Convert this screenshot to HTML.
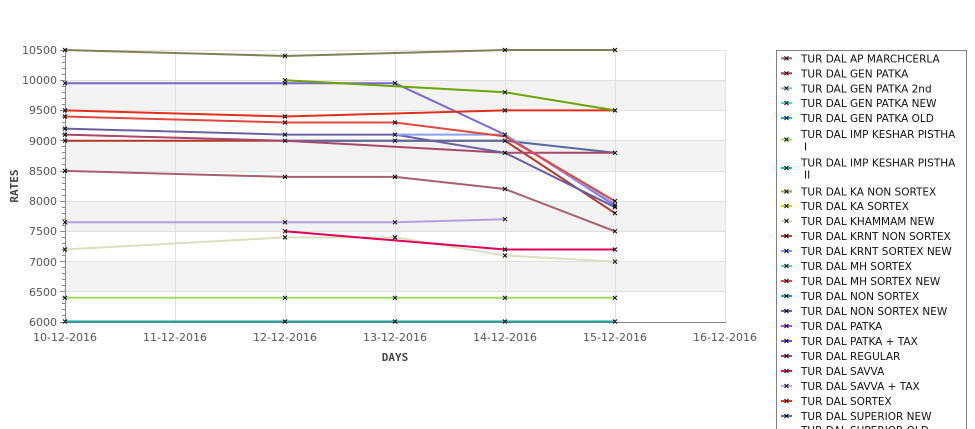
<!DOCTYPE html>
<html><head><meta charset="utf-8"><style>
html,body{margin:0;padding:0;background:#fff;width:975px;height:429px;overflow:hidden;}
svg{display:block;}
.tl{font-family:"DejaVu Sans","Liberation Sans",sans-serif;font-size:11px;fill:#555;}
.lg{font-family:"DejaVu Sans","Liberation Sans",sans-serif;font-size:10.5px;fill:#111;}
.ax{font-family:"DejaVu Sans Mono","Liberation Mono",monospace;font-size:11px;font-weight:bold;fill:#444;}
</style></head><body>
<svg width="975" height="429" viewBox="0 0 975 429" xmlns="http://www.w3.org/2000/svg" overflow="hidden">
<rect x="0" y="0" width="975" height="429" fill="#fff"/>
<!-- bands -->
<g fill="#f3f3f3">
<rect x="65" y="80.2" width="660" height="30.2"/>
<rect x="65" y="140.7" width="660" height="30.2"/>
<rect x="65" y="201.1" width="660" height="30.2"/>
<rect x="65" y="261.6" width="660" height="30.2"/>
</g>
<!-- grid -->
<g stroke="#e0e0e0" stroke-width="1" shape-rendering="crispEdges">
<path d="M65 50.5H725M65 80.5H725M65 110.5H725M65 140.5H725M65 171.5H725M65 201.5H725M65 231.5H725M65 261.5H725M65 291.5H725"/>
<path d="M175.5 50V322M285.5 50V322M395.5 50V322M505.5 50V322M615.5 50V322M725.5 50V322"/>
</g>
<!-- axes -->
<g stroke="#888" stroke-width="1" shape-rendering="crispEdges">
<path d="M65.5 50V322.5M65 322.5H726"/>
<path d="M60 50.5H65M62 56.5H65M62 62.5H65M62 68.5H65M62 74.5H65M60 80.5H65M62 86.5H65M62 92.5H65M62 98.5H65M62 104.5H65M60 110.5H65M62 116.5H65M62 122.5H65M62 128.5H65M62 134.5H65M60 140.5H65M62 146.5H65M62 152.5H65M62 158.5H65M62 164.5H65M60 171.5H65M62 177.5H65M62 183.5H65M62 189.5H65M62 195.5H65M60 201.5H65M62 207.5H65M62 213.5H65M62 219.5H65M62 225.5H65M60 231.5H65M62 237.5H65M62 243.5H65M62 249.5H65M62 255.5H65M60 261.5H65M62 267.5H65M62 273.5H65M62 279.5H65M62 285.5H65M60 291.5H65M62 297.5H65M62 303.5H65M62 309.5H65M62 315.5H65M60 322.5H65"/>
</g>
<!-- y labels -->
<g class="tl" text-anchor="end">
<text x="57" y="54">10500</text>
<text x="57" y="84">10000</text>
<text x="57" y="114">9500</text>
<text x="57" y="145">9000</text>
<text x="57" y="175">8500</text>
<text x="57" y="205">8000</text>
<text x="57" y="235">7500</text>
<text x="57" y="266">7000</text>
<text x="57" y="296">6500</text>
<text x="57" y="326">6000</text>
</g>
<g class="tl" text-anchor="middle">
<text x="65" y="341">10-12-2016</text>
<text x="175" y="341">11-12-2016</text>
<text x="285" y="341">12-12-2016</text>
<text x="395" y="341">13-12-2016</text>
<text x="505" y="341">14-12-2016</text>
<text x="615" y="341">15-12-2016</text>
<text x="725" y="341">16-12-2016</text>
</g>
<text class="ax" x="395" y="361" text-anchor="middle">DAYS</text>
<text class="ax" x="0" y="0" text-anchor="middle" transform="translate(18,186) rotate(-90)">RATES</text>
<!-- series -->
<g fill="none" stroke-width="2" stroke-linejoin="round">
<polyline stroke="#20a0a0" points="65,321.5 285,321.5 395,321.5 505,321.5 615,321.5"/>
<polyline stroke="#a0d860" points="65,297.8 285,297.8 395,297.8 505,297.8 615,297.8"/>
<polyline stroke="#d8e0c0" points="65,249.5 285,237.4 395,237.4 505,255.5 615,261.6"/>
<polyline stroke="#b0a0e0" points="65,222.3 285,222.3 395,222.3 505,219.2"/>
<polyline stroke="#a86070" points="65,170.9 285,176.9 395,176.9 505,189 615,231.3"/>
<polyline stroke="#b03828" points="65,140.7 285,140.7 395,140.7 505,140.7 615,213.2"/>
<polyline stroke="#5868a0" points="285,140.7 395,140.7 505,140.7 615,152.8"/>
<polyline stroke="#a8486a" points="65,134.6 285,140.7 505,152.8 615,152.8"/>
<polyline stroke="#6a60a0" points="65,128.6 285,134.6 395,134.6 505,152.8 615,207.2"/>
<polyline stroke="#7b68d0" points="65,83.2 285,83.2 395,83.2 505,134.6 615,205.5"/>
<polyline stroke="#88a0f8" points="395,134.6 505,134.6 615,204.1"/>
<polyline stroke="#e04840" points="65,116.5 285,122.5 395,122.5 505,136.4 615,201.1"/>
<polyline stroke="#e0301a" points="65,110.4 285,116.5 505,110.4 615,110.4"/>
<polyline stroke="#e0005a" points="285,231.3 505,249.5 615,249.5"/>
<polyline stroke="#6ca500" points="285,80.2 505,92.3 615,110.4"/>
<polyline stroke="#7f7f5a" points="65,50 285,56 505,50 615,50"/>
</g>
<!-- markers -->
<g stroke="#000" stroke-width="1" fill="none">
<path d="
M63 48l4 4m0-4l-4 4 M283 54l4 4m0-4l-4 4 M503 48l4 4m0-4l-4 4 M613 48l4 4m0-4l-4 4
M63 81.2l4 4m0-4l-4 4 M283 81.2l4 4m0-4l-4 4 M393 81.2l4 4m0-4l-4 4 M503 132.6l4 4m0-4l-4 4 M613 203.5l4 4m0-4l-4 4
M283 78.2l4 4m0-4l-4 4 M503 90.3l4 4m0-4l-4 4 M613 108.4l4 4m0-4l-4 4
M63 108.4l4 4m0-4l-4 4 M283 114.5l4 4m0-4l-4 4 M503 108.4l4 4m0-4l-4 4
M63 114.5l4 4m0-4l-4 4 M283 120.5l4 4m0-4l-4 4 M393 120.5l4 4m0-4l-4 4 M613 199.1l4 4m0-4l-4 4
M63 126.6l4 4m0-4l-4 4 M283 132.6l4 4m0-4l-4 4 M393 132.6l4 4m0-4l-4 4 M503 150.8l4 4m0-4l-4 4 M613 205.2l4 4m0-4l-4 4
M63 132.6l4 4m0-4l-4 4 M283 138.7l4 4m0-4l-4 4 M613 150.8l4 4m0-4l-4 4
M63 138.7l4 4m0-4l-4 4 M393 138.7l4 4m0-4l-4 4 M503 138.7l4 4m0-4l-4 4 M613 211.2l4 4m0-4l-4 4
M63 168.9l4 4m0-4l-4 4 M283 174.9l4 4m0-4l-4 4 M393 174.9l4 4m0-4l-4 4 M503 187l4 4m0-4l-4 4 M613 229.3l4 4m0-4l-4 4
M63 220.3l4 4m0-4l-4 4 M283 220.3l4 4m0-4l-4 4 M393 220.3l4 4m0-4l-4 4 M503 217.2l4 4m0-4l-4 4
M283 229.3l4 4m0-4l-4 4 M503 247.5l4 4m0-4l-4 4 M613 247.5l4 4m0-4l-4 4
M63 247.5l4 4m0-4l-4 4 M283 235.4l4 4m0-4l-4 4 M393 235.4l4 4m0-4l-4 4 M503 253.5l4 4m0-4l-4 4 M613 259.6l4 4m0-4l-4 4
M63 295.8l4 4m0-4l-4 4 M283 295.8l4 4m0-4l-4 4 M393 295.8l4 4m0-4l-4 4 M503 295.8l4 4m0-4l-4 4 M613 295.8l4 4m0-4l-4 4
M63 319.5l4 4m0-4l-4 4 M283 319.5l4 4m0-4l-4 4 M393 319.5l4 4m0-4l-4 4 M503 319.5l4 4m0-4l-4 4 M613 319.5l4 4m0-4l-4 4
"/>
</g>
<!-- legend -->
<path d="M776.5 429V50.5H966.5V429" fill="#fff" stroke="#808080" stroke-width="1" shape-rendering="crispEdges"/>
<g stroke-width="2">
<path stroke="#a86070" d="M781 58.3h11"/>
<path stroke="#b0304a" d="M781 73.3h11"/>
<path stroke="#90b8c8" d="M781 88.3h11"/>
<path stroke="#40d8e0" d="M781 103h11"/>
<path stroke="#10b0e0" d="M781 118h11"/>
<path stroke="#a0d860" d="M781 139.5h11"/>
<path stroke="#20b8b0" d="M781 168h11"/>
<path stroke="#a0a050" d="M781 191.5h11"/>
<path stroke="#c8d000" d="M781 206h11"/>
<path stroke="#d0dcc0" d="M781 221h11"/>
<path stroke="#c04030" d="M781 236h11"/>
<path stroke="#7898f8" d="M781 251h11"/>
<path stroke="#60c8c8" d="M781 266h11"/>
<path stroke="#e84040" d="M781 281h11"/>
<path stroke="#20a098" d="M781 296h11"/>
<path stroke="#6a60a8" d="M781 311h11"/>
<path stroke="#c040e8" d="M781 326h11"/>
<path stroke="#6858d8" d="M781 341h11"/>
<path stroke="#a84868" d="M781 356h11"/>
<path stroke="#e80060" d="M781 371h11"/>
<path stroke="#b8a8e8" d="M781 386h11"/>
<path stroke="#e83018" d="M781 401h11"/>
<path stroke="#5868a8" d="M781 416h11"/>
</g>
<g stroke="#000" stroke-width="1">
<path d="M784.5 56.3l4 4m0-4l-4 4 M784.5 71.3l4 4m0-4l-4 4 M784.5 86.3l4 4m0-4l-4 4 M784.5 101l4 4m0-4l-4 4 M784.5 116l4 4m0-4l-4 4 M784.5 137.5l4 4m0-4l-4 4 M784.5 166l4 4m0-4l-4 4 M784.5 189.5l4 4m0-4l-4 4 M784.5 204l4 4m0-4l-4 4 M784.5 219l4 4m0-4l-4 4 M784.5 234l4 4m0-4l-4 4 M784.5 249l4 4m0-4l-4 4 M784.5 264l4 4m0-4l-4 4 M784.5 279l4 4m0-4l-4 4 M784.5 294l4 4m0-4l-4 4 M784.5 309l4 4m0-4l-4 4 M784.5 324l4 4m0-4l-4 4 M784.5 339l4 4m0-4l-4 4 M784.5 354l4 4m0-4l-4 4 M784.5 369l4 4m0-4l-4 4 M784.5 384l4 4m0-4l-4 4 M784.5 399l4 4m0-4l-4 4 M784.5 414l4 4m0-4l-4 4"/>
</g>
<g class="lg">
<text x="801" y="62.3">TUR DAL AP MARCHCERLA</text>
<text x="801" y="77.3">TUR DAL GEN PATKA</text>
<text x="801" y="92.3">TUR DAL GEN PATKA 2nd</text>
<text x="801" y="107">TUR DAL GEN PATKA NEW</text>
<text x="801" y="122">TUR DAL GEN PATKA OLD</text>
<text x="801" y="138">TUR DAL IMP KESHAR PISTHA</text>
<text x="804" y="150.7">I</text>
<text x="801" y="166.7">TUR DAL IMP KESHAR PISTHA</text>
<text x="804" y="178.3">II</text>
<text x="801" y="195.5">TUR DAL KA NON SORTEX</text>
<text x="801" y="210">TUR DAL KA SORTEX</text>
<text x="801" y="225">TUR DAL KHAMMAM NEW</text>
<text x="801" y="240">TUR DAL KRNT NON SORTEX</text>
<text x="801" y="255">TUR DAL KRNT SORTEX NEW</text>
<text x="801" y="270">TUR DAL MH SORTEX</text>
<text x="801" y="285">TUR DAL MH SORTEX NEW</text>
<text x="801" y="300">TUR DAL NON SORTEX</text>
<text x="801" y="315">TUR DAL NON SORTEX NEW</text>
<text x="801" y="330">TUR DAL PATKA</text>
<text x="801" y="345">TUR DAL PATKA + TAX</text>
<text x="801" y="360">TUR DAL REGULAR</text>
<text x="801" y="375">TUR DAL SAVVA</text>
<text x="801" y="390">TUR DAL SAVVA + TAX</text>
<text x="801" y="405">TUR DAL SORTEX</text>
<text x="801" y="420">TUR DAL SUPERIOR NEW</text>
<text x="801" y="434">TUR DAL SUPERIOR OLD</text>
</g>
</svg>
</body></html>
